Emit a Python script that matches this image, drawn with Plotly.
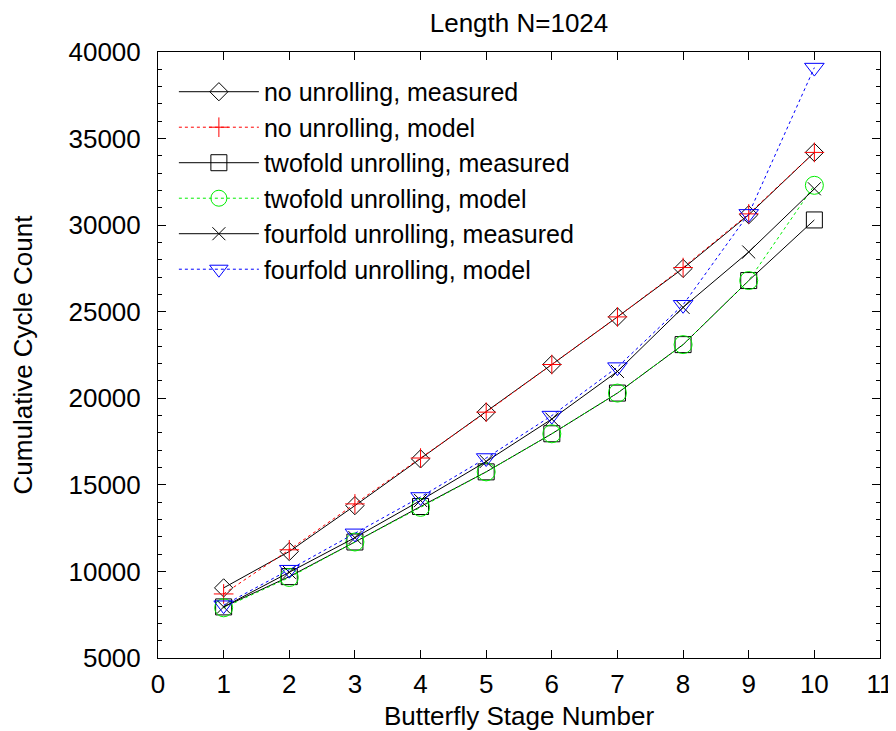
import plotly.graph_objects as go

stages = [1, 2, 3, 4, 5, 6, 7, 8, 9, 10]
no_unroll_measured = [9050, 11150, 13800, 16500, 19200, 21950, 24700, 27500, 30600, 34200]
no_unroll_model = [8700, 11250, 13900, 16550, 19200, 21950, 24700, 27550, 30650, 34200]
two_unroll_measured = [7950, 9700, 11700, 13750, 15750, 17950, 20300, 23100, 26800, 30300]
two_unroll_model = [7900, 9650, 11700, 13700, 15750, 17950, 20300, 23100, 26800, 32300]
four_unroll_measured = [7950, 9950, 11950, 14100, 16350, 18800, 21550, 25250, 28450, 32100]
four_unroll_model = [8050, 10100, 12200, 14300, 16550, 19000, 21800, 25400, 30650, 39100]

series_names = [
    "no unrolling, measured",
    "no unrolling, model",
    "twofold unrolling, measured",
    "twofold unrolling, model",
    "fourfold unrolling, measured",
    "fourfold unrolling, model",
]
series_values = [no_unroll_measured, no_unroll_model, two_unroll_measured,
                 two_unroll_model, four_unroll_measured, four_unroll_model]
styles = [
    dict(color="black", dash="solid", symbol="diamond-open", size=14),
    dict(color="red", dash="dot", symbol="cross-thin-open", size=14),
    dict(color="black", dash="solid", symbol="square-open", size=16),
    dict(color="#00ee00", dash="dot", symbol="circle-open", size=18),
    dict(color="black", dash="solid", symbol="x-thin-open", size=13),
    dict(color="blue", dash="dot", symbol="triangle-down-open", size=17),
]

FONT = "Liberation Sans, Arial, sans-serif"
FS = 26
# The page body has an 8px margin, so the figure is drawn 8px right/down.
W, H = 888, 723
fig = go.Figure()
for name, vals, st in zip(series_names, series_values, styles):
    fig.add_trace(go.Scatter(
        x=stages, y=vals, name=name, mode="lines+markers",
        line=dict(color=st["color"], width=1, dash=st["dash"]),
        marker=dict(symbol=st["symbol"], size=st["size"],
                    color=st["color"], line=dict(color=st["color"], width=1)),
    ))

axis_common = dict(
    showgrid=False, zeroline=False, showline=True, linecolor="black", linewidth=1,
    mirror="ticks", ticks="inside", ticklen=8, tickcolor="black", tickwidth=1,
    tickfont=dict(family=FONT, size=FS, color="black"), automargin=False,
)
fig.update_xaxes(range=[0, 11], dtick=1, tick0=0, ticklabelstandoff=3,
                 title=dict(text="Butterfly Stage Number", font=dict(family=FONT, size=FS, color="black"), standoff=10),
                 **axis_common)
fig.update_yaxes(range=[5000, 40000], dtick=5000, tick0=5000, tickformat="d",
                 ticklabelstandoff=11,
                 minor=dict(dtick=1000, ticks="inside", ticklen=4, tickcolor="black"),
                 title=dict(text="Cumulative Cycle Count", font=dict(family=FONT, size=FS, color="black"), standoff=32),
                 **axis_common)

fig.update_layout(
    width=W, height=H,
    margin=dict(l=150, r=16, t=44, b=73),
    paper_bgcolor="white", plot_bgcolor="white",
    title=dict(text="Length N=1024", xref="paper", x=0.5, xanchor="center",
               y=1 - 14.5 / H, yanchor="middle",
               font=dict(family=FONT, size=FS, color="black")),
    legend=dict(x=0.022, y=0.972, xanchor="left", yanchor="top",
                font=dict(family=FONT, size=25, color="black"),
                itemwidth=80, bgcolor="rgba(0,0,0,0)"),
    showlegend=True,
)

fig.write_html("out.html")
